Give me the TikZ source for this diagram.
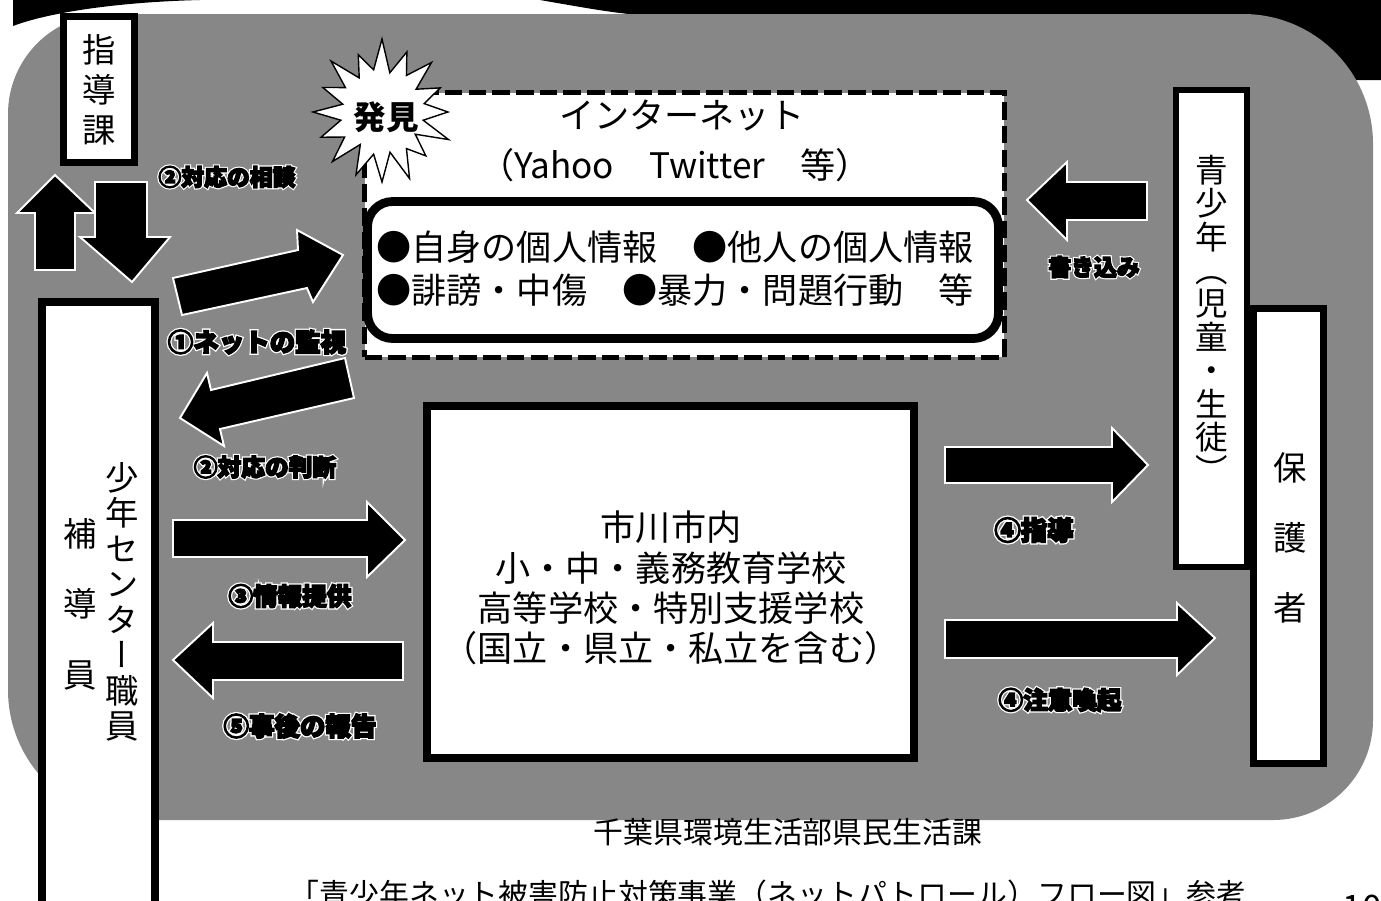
\documentclass[tikz,border=0pt]{standalone}
\usepackage{fontspec}
\usepackage{graphicx}
\setmainfont{Noto Sans CJK JP}
\newfontfamily\jp{Noto Sans CJK JP}
\newfontfamily\jpv[RawFeature=+vert]{Noto Sans CJK JP}
\newfontfamily\jplbl[BoldFeatures={FakeBold=6}]{Noto Sans CJK JP}
\newfontfamily\jphalo[BoldFeatures={FakeBold=16}]{Noto Sans CJK JP}
\definecolor{halftone}{gray}{0.53}
\newcommand{\fsz}[2]{\fontsize{#1}{#2}\selectfont}
\newcommand{\halo}[1]{\leavevmode\rlap{\color{white}\jphalo\bfseries #1}\jplbl\bfseries #1}
\begin{document}
\begin{tikzpicture}[x=0.02cm,y=-0.02cm,
  box/.style={draw=black, fill=white, inner sep=0pt},
  blk/.style={fill=black, draw=white, line width=1.1pt, line join=miter},
  lbl/.style={font=\fsz{14}{16}, inner sep=0pt, text=black},
  txt/.style={font=\jp\fsz{20}{22.9}, inner sep=0pt, align=center},
  vt/.style={inner sep=0pt, align=center}]
\useasboundingbox (0,0) rectangle (1381,900);
% background black banner pieces
\fill[black] (13,0) -- (13,26) .. controls (50,12) and (120,2) .. (200,0) -- cycle;
\fill[black] (540,0) -- (1381,0) -- (1381,80) -- (1300,80) -- (1300,30) -- (700,20) .. controls (620,14) .. (540,0) -- cycle;
% grey halftone area
\fill[halftone] (8,114) arc[start angle=180,end angle=270,radius=100] -- (1243,14)
  arc[start angle=270,end angle=360,radius=130] -- (1373,720)
  arc[start angle=0,end angle=90,radius=100] -- (138,820)
  arc[start angle=90,end angle=180,radius=130] -- cycle;

% boxes
\node[box, line width=4pt, minimum width=1.42cm, minimum height=2.92cm] (shidou) at (99,89.5) {};
\node[box, line width=4.5pt, minimum width=2.26cm, minimum height=13.08cm] (center) at (98.5,629) {};
\node[box, line width=4.5pt, minimum width=9.74cm, minimum height=7.04cm] (school) at (670.5,582) {};
\node[box, line width=3.5pt, minimum width=1.4cm, minimum height=9.1cm] (parents) at (1288.5,536) {};
\node[box, line width=3.5pt, minimum width=1.42cm, minimum height=9.54cm] (youth) at (1211.5,328.5) {};
\node[box, line width=3pt, dash pattern=on 10pt off 3.5pt, minimum width=12.8cm, minimum height=5.3cm] (net) at (684.5,225) {};
\node[box, line width=5pt, rounded corners=0.5cm, minimum width=12.62cm, minimum height=2.74cm] (info) at (683,270) {};

% starburst
\begin{scope}[shift={(382,112)}]
\draw[fill=white, line width=0.8pt, line join=miter]
 (0:66) -- (11.25:42) -- (22.5:72) -- (33.75:40) -- (45:62) -- (56.25:44) -- (67.5:72) -- (78.75:41)
 -- (90:70) -- (101.25:43) -- (112.5:68) -- (123.75:39) -- (135:70) -- (146.25:45) -- (157.5:66) -- (168.75:42)
 -- (180:69) -- (191.25:40) -- (202.5:64) -- (213.75:44) -- (225:72) -- (236.25:41) -- (247.5:62) -- (258.75:43)
 -- (270:73) -- (281.25:40) -- (292.5:65) -- (303.75:44) -- (315:70) -- (326.25:41) -- (337.5:63) -- (348.75:43) -- cycle;
\end{scope}
\node[font=\jp\bfseries\fsz{18.5}{20}, inner sep=0pt] (found) at (386,117) {発見};

% block arrows
\fill[blk] (35,270) -- (35,213) -- (17,213) -- (55,175) -- (95,213) -- (75,213) -- (75,270) -- cycle;
\fill[blk] (95,182) -- (147,182) -- (147,237) -- (170,237) -- (132,282) -- (80,237) -- (95,237) -- cycle;
\fill[blk] (173,278) -- (298,250) -- (297,230) -- (343,255) -- (313,302) -- (307,288) -- (182,315) -- cycle;
\fill[blk] (180,418) -- (207,373) -- (211,390) -- (345,358) -- (354,398) -- (220,429) -- (224,446) -- cycle;
\fill[blk] (173,520) -- (367,520) -- (367,502) -- (405,540) -- (367,577) -- (367,557) -- (173,557) -- cycle;
\fill[blk] (403,642) -- (213,642) -- (213,623) -- (173,660) -- (213,698) -- (213,680) -- (403,680) -- cycle;
\fill[blk] (945,447) -- (1112,447) -- (1112,428) -- (1148,465) -- (1112,502) -- (1112,483) -- (945,483) -- cycle;
\fill[blk] (945,620) -- (1177,620) -- (1177,603) -- (1215,638) -- (1177,675) -- (1177,658) -- (945,658) -- cycle;
\fill[blk] (1147,182) -- (1067,182) -- (1067,162) -- (1027,200) -- (1067,240) -- (1067,220) -- (1147,220) -- cycle;

% arrow labels
\node[lbl, font=\fsz{13}{15}] (l1) at (227,177) {\halo{②対応の相談}};
\node[lbl, font=\fsz{14.5}{16}] (l2) at (257,342) {\halo{①ネットの監視}};
\node[lbl, font=\fsz{13.5}{15}] (l3) at (265,467) {\halo{②対応の判断}};
\node[lbl] (l4) at (290,596) {\halo{③情報提供}};
\node[lbl, font=\fsz{14.5}{16}] (l5) at (300,726) {\halo{⑤事後の報告}};
\node[lbl, font=\fsz{15}{16}] (l6) at (1034,530) {\halo{④指導}};
\node[lbl] (l7) at (1060,700) {\halo{④注意喚起}};
\node[lbl, font=\fsz{13}{15}] (l8) at (1094,267) {\halo{書き込み}};

% texts
\node[vt, font=\jpv\fsz{19}{22.7}] (shidouT) at (99,90) {指\\導\\課};
\node[vt, font=\jpv\fsz{19}{20.2}] (centerT) at (122,602) {少\\年\\セ\\ン\\タ\\ー\\職\\員};
\node[vt, font=\jpv\fsz{19}{40.2}] (hodouT) at (80,604) {補\\導\\員};
\node[vt, font=\jpv\fsz{18.5}{19}] (youthT) at (1212,319) {青\\少\\年\\（\\児\\童\\・\\生\\徒\\）};
\node[vt, font=\jpv\fsz{19}{39.7}] (parentsT) at (1290,538) {保\\護\\者};
\node[txt] (netT1) at (682,116) {インターネット};
\node[txt] (netT2) at (675,165) {（Yahoo　Twitter　等）};
\node[txt, anchor=west] (infoT1) at (376,247) {●自身の個人情報　●他人の個人情報};
\node[txt, anchor=west] (infoT2) at (376,290) {●誹謗・中傷　●暴力・問題行動　等};
\node[txt] (schoolT) at (671,588) {市川市内\\小・中・義務教育学校\\高等学校・特別支援学校\\（国立・県立・私立を含む）};

% caption
\node[font=\jp\fsz{17}{19}, inner sep=0pt] (cap1) at (788,832) {千葉県環境生活部県民生活課};
\node[font=\jp\fsz{17}{19}, inner sep=0pt] (cap2) at (768,894) {「青少年ネット被害防止対策事業（ネットパトロール）フロー図」参考};
\node[font=\jp\fsz{20}{22}, inner sep=0pt] (page) at (1362,908) {10};
\end{tikzpicture}
\end{document}
